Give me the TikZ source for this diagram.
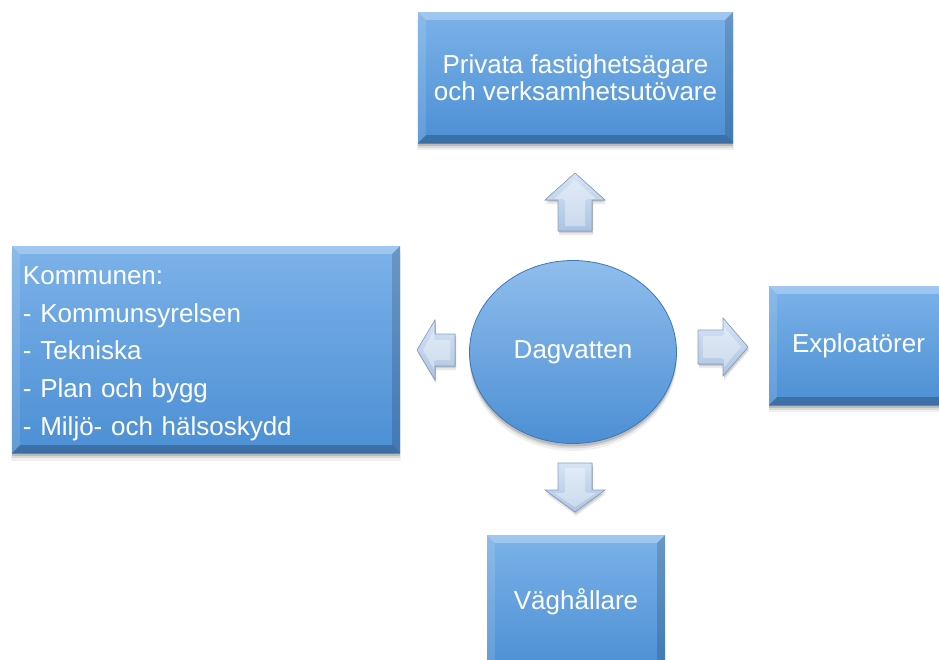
\documentclass[tikz,border=0pt]{standalone}
\usepackage{fontspec}
\setmainfont{Liberation Sans}
\usetikzlibrary{shapes.geometric,shadows}
\definecolor{boxtop}{RGB}{124,178,233}
\definecolor{boxmid}{RGB}{98,161,226}
\definecolor{boxbot}{RGB}{76,143,212}
\definecolor{boxedge}{RGB}{62,118,185}
\definecolor{arrtop}{RGB}{214,228,245}
\definecolor{arrbot}{RGB}{172,196,226}
\definecolor{arredge}{RGB}{140,160,192}
\tikzset{
  shad/.style={
    general shadow={shadow xshift=0pt, shadow yshift=-7pt, shadow scale=1.005, opacity=.06, fill=black},
    general shadow={shadow xshift=0pt, shadow yshift=-5pt, opacity=.09, fill=black},
    general shadow={shadow xshift=0pt, shadow yshift=-3pt, opacity=.14, fill=black}},
  box/.style={rectangle, inner sep=0pt, top color=boxtop, middle color=boxmid, bottom color=boxbot,
    text=white, font=\fontsize{26}{27.5}\selectfont, shad},
  hub/.style={ellipse, inner sep=0pt, top color=boxtop!85!white, bottom color=boxbot, draw=boxedge,
    line width=.8pt, text=white, font=\fontsize{26}{27.5}\selectfont, shad},
  blockarrow/.style={top color=arrtop, bottom color=arrbot, draw=arredge, line width=.6pt,
    line join=miter,
    general shadow={shadow xshift=1pt, shadow yshift=-4pt, opacity=.08, fill=black},
    general shadow={shadow xshift=1pt, shadow yshift=-2pt, opacity=.12, fill=black}},
  arrface/.style={fill=white, opacity=.35},
  bevtop/.style={fill=white, opacity=.28},
  bevleft/.style={fill=white, opacity=.12},
  bevright/.style={fill=black, opacity=.15},
  bevbot/.style={fill=black, opacity=.22}
}
\newcommand\mybevel[1]{%
  \fill[bevtop] (#1.north west) -- (#1.north east) -- ([xshift=-8pt,yshift=-8pt]#1.north east) -- ([xshift=8pt,yshift=-8pt]#1.north west) -- cycle;
  \fill[bevleft] (#1.north west) -- ([xshift=8pt,yshift=-8pt]#1.north west) -- ([xshift=8pt,yshift=8pt]#1.south west) -- (#1.south west) -- cycle;
  \fill[bevright] (#1.north east) -- ([xshift=-8pt,yshift=-8pt]#1.north east) -- ([xshift=-8pt,yshift=8pt]#1.south east) -- (#1.south east) -- cycle;
  \fill[bevbot] (#1.south west) -- ([xshift=8pt,yshift=8pt]#1.south west) -- ([xshift=-8pt,yshift=8pt]#1.south east) -- (#1.south east) -- cycle;
}
\begin{document}
\begin{tikzpicture}[x=1pt,y=-1pt]
\useasboundingbox (0,0) rectangle (939,659);
\fill[white] (0,0) rectangle (939,659);

\node[box, minimum width=315pt, minimum height=131pt, align=center] (priv) at (575.5,77.5)
  {Privata fastighetsägare\\och verksamhetsutövare};
\node[box, minimum width=388pt, minimum height=207pt, inner xsep=11pt, text width=366pt,
  text height=26pt, align=left, font=\fontsize{26}{37.8}\selectfont] (kom) at (206,349.5)
  {Kommunen:\\- Kommunsyrelsen\\- Tekniska\\- Plan och bygg\\- Miljö- och hälsoskydd};
\node[box, minimum width=179pt, minimum height=119pt] (expl) at (858.5,345.5) {Exploatörer};
\node[box, minimum width=178pt, minimum height=134pt] (vag) at (576,602) {Väghållare};
\node[hub, minimum width=207pt, minimum height=183pt] (dag) at (573,352) {Dagvatten};

\mybevel{priv}
\mybevel{kom}
\mybevel{expl}
\mybevel{vag}

% block arrows
\filldraw[blockarrow] (575,173) -- (605,200) -- (592,200) -- (592,231) -- (558,231) -- (558,200) -- (545,200) -- cycle;
\fill[arrface] (575,180) -- (596,199) -- (587,199) -- (585,201) -- (585,226) -- (565,226) -- (565,201) -- (563,199) -- (554,199) -- cycle;
\filldraw[blockarrow] (575,512) -- (605,490) -- (592,490) -- (592,463) -- (558,463) -- (558,490) -- (545,490) -- cycle;
\fill[arrface] (565,468) -- (585,468) -- (585,491) -- (587,493) -- (596,493) -- (575,507) -- (554,493) -- (563,493) -- (565,491) -- cycle;
\filldraw[blockarrow] (417,350) -- (435,320) -- (435,334) -- (455,334) -- (455,366) -- (435,366) -- (435,380) -- cycle;
\fill[arrface] (423,350) -- (434,331) -- (434,339) -- (437,340) -- (450,340) -- (450,360) -- (437,360) -- (434,361) -- (434,369) -- cycle;
\filldraw[blockarrow] (748,347) -- (723,318) -- (723,330) -- (698,330) -- (698,364) -- (723,364) -- (723,376) -- cycle;
\fill[arrface] (703,336) -- (721,336) -- (724,335) -- (724,327) -- (741,347) -- (724,367) -- (724,359) -- (721,358) -- (703,358) -- cycle;
\end{tikzpicture}
\end{document}
